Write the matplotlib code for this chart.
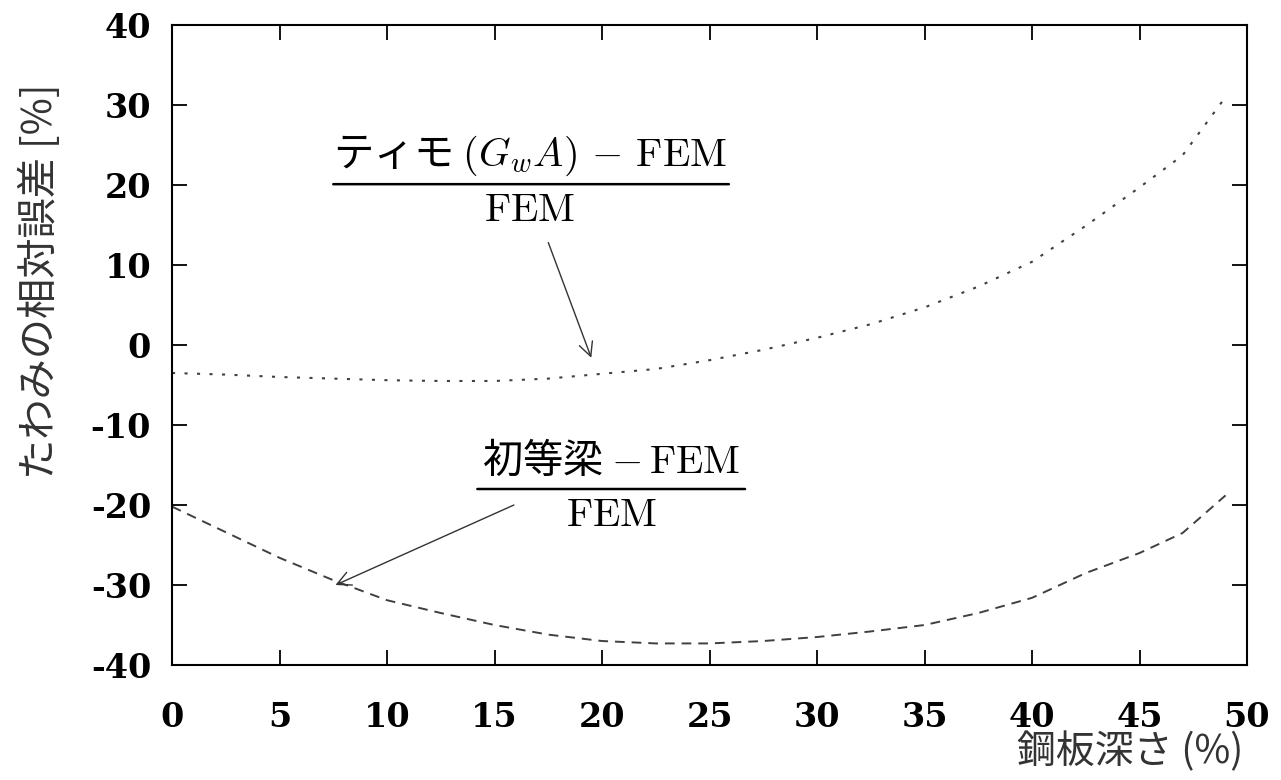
import matplotlib
matplotlib.use("Agg")
import matplotlib.pyplot as plt

# ---- data ----
depth = [0, 2.5, 5, 7.5, 10, 12.5, 15, 17.5, 20, 22.5, 25, 27.5, 30, 32.5,
         35, 37.5, 40, 42.5, 45, 47, 49]
timo_err = [-3.5, -3.7, -4.0, -4.2, -4.4, -4.5, -4.5, -4.2, -3.6, -3.0, -1.9,
            -0.6, 0.9, 2.6, 4.7, 7.3, 10.4, 14.9, 19.7, 23.7, 31.0]
beam_err = [-20.2, -23.4, -26.6, -29.4, -31.9, -33.5, -35.0, -36.2, -37.0,
            -37.3, -37.3, -37.0, -36.5, -35.8, -35.0, -33.5, -31.6, -28.5,
            -26.0, -23.5, -18.8]
xticks = [0, 5, 10, 15, 20, 25, 30, 35, 40, 45, 50]
yticks = [-40, -30, -20, -10, 0, 10, 20, 30, 40]
xlabel = "鋼板深さ (%)"
ylabel = "たわみの相対誤差 [%]"

plt.rcParams['mathtext.fontset'] = 'cm'
plt.rcParams['lines.scale_dashes'] = False
cjk = ['Noto Sans CJK JP', 'DejaVu Sans']

fig = plt.figure(figsize=(12.81, 7.80), dpi=100)
ax = fig.add_axes([0.1343, 0.1474, 0.8392, 0.8206])

ax.plot(depth, timo_err, color='#404040', lw=1.5, dashes=(2.2, 6.8))
ax.plot(depth, beam_err, color='#404040', lw=1.4, dashes=(7.0, 5.0))

ax.set_xlim(0, 50)
ax.set_ylim(-40, 40)
ax.set_xticks(xticks)
ax.set_yticks(yticks)
ax.set_xticklabels([str(v) for v in xticks], family='DejaVu Serif',
                   fontweight='bold', fontsize=24)
ax.set_yticklabels([str(v) for v in yticks], family='DejaVu Serif',
                   fontweight='bold', fontsize=24)
ax.tick_params(axis='both', direction='in', length=11, width=1.3,
               top=True, right=True)
ax.tick_params(axis='y', pad=15)
ax.tick_params(axis='x', pad=26)
for s in ax.spines.values():
    s.set_linewidth(1.5)

ax.set_ylabel(ylabel, family=cjk, fontsize=29, color='#333333')
ax.yaxis.set_label_coords(-0.103, 0.60)
ax.set_xlabel(xlabel, family=cjk, fontsize=28, color='#333333')
ax.xaxis.set_label_coords(0.891, -0.105)

# ---- annotation 1 ----
ax.text(16.65, 23.6, r"ティモ $(G_wA)\,-\,\mathrm{FEM}$", family=cjk,
        fontsize=29, ha='center', va='center')
ax.annotate("", xy=(7.5, 20.1), xytext=(25.9, 20.1),
            arrowprops=dict(arrowstyle='-', lw=1.8, color='black',
                            shrinkA=0, shrinkB=0))
ax.text(16.65, 16.9, r"$\mathrm{FEM}$", fontsize=29, ha='center', va='center')
ax.annotate("", xy=(19.5, -1.6), xytext=(17.5, 12.8),
            arrowprops=dict(arrowstyle='->', lw=1.0, color='#333333',
                            shrinkA=0, shrinkB=0, mutation_scale=25))

# ---- annotation 2 ----
ax.text(20.4, -14.5, r"初等梁 $-\,\mathrm{FEM}$", family=cjk,
        fontsize=29, ha='center', va='center')
ax.annotate("", xy=(14.2, -18.0), xytext=(26.65, -18.0),
            arrowprops=dict(arrowstyle='-', lw=1.8, color='black',
                            shrinkA=0, shrinkB=0))
ax.text(20.45, -21.3, r"$\mathrm{FEM}$", fontsize=29, ha='center', va='center')
ax.annotate("", xy=(7.6, -30.0), xytext=(15.9, -20.0),
            arrowprops=dict(arrowstyle='->', lw=1.0, color='#333333',
                            shrinkA=0, shrinkB=0, mutation_scale=25))

fig.savefig("out.png", dpi=100)
